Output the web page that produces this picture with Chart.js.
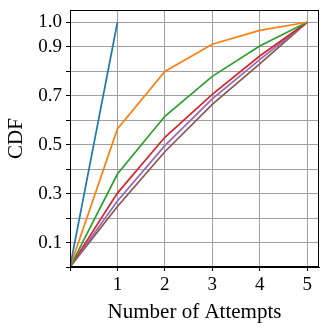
<!DOCTYPE html>
<html>
<head>
<meta charset="utf-8">
<script src="https://cdn.jsdelivr.net/npm/chart.js@4"></script>
<style>
  html, body { margin: 0; padding: 0; background: #fff; }
  #wrap { width: 329px; height: 329px; }
</style>
</head>
<body>
<div id="wrap"><canvas id="cdfChart" width="329" height="329"></canvas></div>
<script>
// attempts on the x axis
const attempts = [0, 1, 2, 3, 4, 5];

// CDF series
const seriesBlue   = [0, 1.0];
const seriesOrange = [0, 0.564, 0.799, 0.910, 0.967, 1.0];
const seriesGreen  = [0, 0.380, 0.616, 0.779, 0.903, 1.0];
const seriesRed    = [0, 0.302, 0.530, 0.705, 0.862, 1.0];
const seriesPurple = [0, 0.270, 0.496, 0.687, 0.847, 1.0];
const seriesBrown  = [0, 0.247, 0.471, 0.664, 0.830, 1.0];

// tick labels
const xTickLabels = ['1', '2', '3', '4', '5'];
const yTickLabels = ['0.1', '0.3', '0.5', '0.7', '0.9', '1.0'];
const yGridValues = [0, 0.1, 0.2, 0.3, 0.4, 0.5, 0.6, 0.7, 0.8, 0.9, 1.0];

const colors = ['#1f77b4', '#ff7f0e', '#2ca02c', '#d62728', '#9467bd', '#8c564b'];
const allSeries = [seriesBlue, seriesOrange, seriesGreen, seriesRed, seriesPurple, seriesBrown];

const toPoints = vals => vals.map((v, i) => ({ x: attempts[i], y: v }));

const datasets = allSeries.map((vals, i) => ({
  data: toPoints(vals),
  borderColor: colors[i],
  borderWidth: 1.7,
  pointRadius: 0,
  fill: false,
  tension: 0
}));

// draw the full box like matplotlib spines
const frame = {
  id: 'frame',
  afterDatasetsDraw(chart) {
    const { ctx, chartArea: a } = chart;
    ctx.save();
    ctx.strokeStyle = '#000';
    ctx.lineWidth = 1;
    ctx.strokeRect(a.left + 0.5, a.top + 0.5, a.right - a.left - 1, a.bottom - a.top - 1);
    ctx.restore();
  }
};

const family = '"Liberation Serif", "DejaVu Serif", serif';
const tickFont = { family, size: 19 };
const titleFont = { family, size: 21 };

const ctx = document.getElementById('cdfChart').getContext('2d');
new Chart(ctx, {
  type: 'line',
  data: { datasets },
  options: {
    responsive: false,
    maintainAspectRatio: false,
    animation: false,
    layout: { padding: { top: 10, right: 10, left: 0, bottom: 0 } },
    plugins: { legend: { display: false }, tooltip: { enabled: false } },
    scales: {
      x: {
        type: 'linear',
        min: 0,
        max: 5.25,
        afterBuildTicks: s => { s.ticks = attempts.map(v => ({ value: v })); },
        afterFit: s => { s.height = 62; s.paddingLeft = 0; s.paddingRight = 0; },
        ticks: {
          color: '#000',
          font: tickFont,
          padding: 3,
          maxRotation: 0,
          autoSkip: false,
          callback: v => (v >= 1 ? xTickLabels[v - 1] : '')
        },
        grid: { color: '#a0a0a0', lineWidth: 1, tickLength: 4, tickColor: '#000' },
        border: { color: '#000' },
        title: { display: true, text: 'Number of Attempts', color: '#000', font: titleFont, padding: { top: 0 } }
      },
      y: {
        min: 0,
        max: 1.05,
        afterBuildTicks: s => { s.ticks = yGridValues.map(v => ({ value: v })); },
        afterFit: s => { s.width = 70; s.paddingTop = 0; s.paddingBottom = 0; },
        ticks: {
          color: '#000',
          font: tickFont,
          padding: 4,
          autoSkip: false,
          callback: v => {
            const t = v.toFixed(1);
            return yTickLabels.includes(t) ? t : '';
          }
        },
        grid: { color: '#a0a0a0', lineWidth: 1, tickLength: 4, tickColor: '#000' },
        border: { color: '#000' },
        title: { display: true, text: 'CDF', color: '#000', font: titleFont, padding: { bottom: 0 } }
      }
    }
  },
  plugins: [frame]
});
</script>
</body>
</html>
